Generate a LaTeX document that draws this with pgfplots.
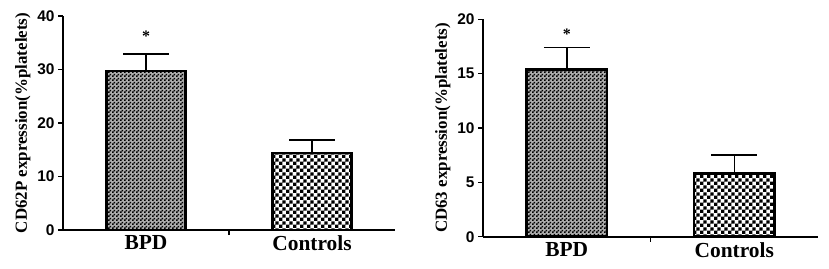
\documentclass[border=0pt]{standalone}
\usepackage{fontspec}
\setmainfont{Liberation Serif}
\setsansfont{Liberation Sans}
\usepackage{pgfplots}
\pgfplotsset{compat=1.18}
\usetikzlibrary{patterns}
\pgfdeclarepatternformonly{checkfine}{\pgfpointorigin}{\pgfpoint{4bp}{4bp}}{\pgfpoint{4bp}{4bp}}{%
  \pgfpathrectangle{\pgfpointorigin}{\pgfpoint{2bp}{2bp}}%
  \pgfpathrectangle{\pgfpoint{2bp}{2bp}}{\pgfpoint{2bp}{2bp}}%
  \pgfusepath{fill}}
\pgfdeclarepatternformonly{checkcoarse}{\pgfpointorigin}{\pgfpoint{6.8bp}{6.8bp}}{\pgfpoint{6.8bp}{6.8bp}}{%
  \pgfpathrectangle{\pgfpointorigin}{\pgfpoint{3.4bp}{3.4bp}}%
  \pgfpathrectangle{\pgfpoint{3.4bp}{3.4bp}}{\pgfpoint{3.4bp}{3.4bp}}%
  \pgfusepath{fill}}
\pgfplotsset{
  mystyle/.style={
    scale only axis,
    axis lines=left,
    axis line style={-, line width=2pt},
    xmin=-0.5, xmax=1.5,
    ymin=0,
    xtick={0.5},
    xticklabels={},
    major tick length=5bp,
    tick align=outside,
    tick style={line width=1.5pt, black},
    extra x ticks={0,1},
    extra x tick labels={BPD,Controls},
    extra x tick style={major tick length=0pt},
    /pgf/number format/assume math mode=true,
    yticklabel style={font=\fontsize{15.5}{15.5}\selectfont\sffamily\bfseries},
    xticklabel style={font=\fontsize{21.5}{21.5}\selectfont\bfseries, yshift=-2bp},
    ylabel style={font=\fontsize{17}{17}\selectfont\bfseries},
    ybar, bar shift=0pt, bar width=0.48,
    error bars/y dir=plus, error bars/y explicit,
    error bars/error bar style={line width=1.5pt, black},
    error bars/error mark options={rotate=90, mark size=23bp, line width=1.5pt, black},
  }
}
\begin{document}
\begin{tikzpicture}[x=1bp,y=1bp]
\path[use as bounding box] (0,0) rectangle (829,268);
\begin{axis}[mystyle, at={(63bp,38bp)}, anchor=south west, width=332bp, height=214bp,
  ymax=40, ytick={0,10,20,30,40},
  ylabel={CD62P expression(\%platelets)}]
\addplot[draw=none, fill=black!32, forget plot] coordinates {(0,29.7)};
\addplot[draw=black, line width=2.8pt, pattern=checkfine, pattern color=black]
  coordinates {(0,29.7) +- (0,3.2)};
\addplot[draw=black, line width=2.8pt, pattern=checkcoarse, pattern color=black]
  coordinates {(1,14.4) +- (0,2.4)};
\node[font=\fontsize{16}{16}\selectfont\bfseries] at (axis cs:0,36.2) {*};
\end{axis}
\begin{axis}[mystyle, at={(483bp,31.3bp)}, anchor=south west, width=335bp, height=217.4bp,
  ymax=20, ytick={0,5,10,15,20},
  ylabel={CD63 expression(\%platelets)}]
\addplot[draw=none, fill=black!32, forget plot] coordinates {(0,15.35)};
\addplot[draw=black, line width=2.8pt, pattern=checkfine, pattern color=black]
  coordinates {(0,15.35) +- (0,2.05)};
\addplot[draw=black, line width=2.8pt, pattern=checkcoarse, pattern color=black]
  coordinates {(1,5.8) +- (0,1.7)};
\node[font=\fontsize{16}{16}\selectfont\bfseries] at (axis cs:0,18.6) {*};
\end{axis}
\end{tikzpicture}
\end{document}
